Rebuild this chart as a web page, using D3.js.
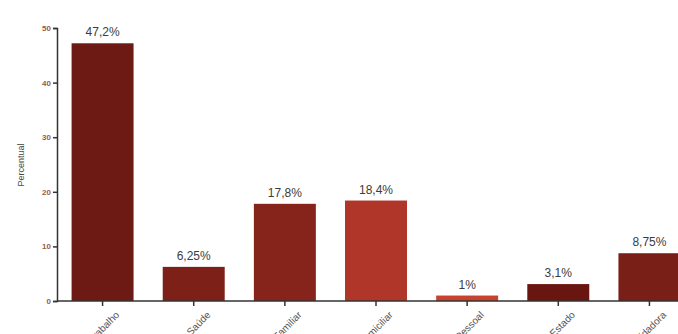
<!DOCTYPE html>
<html><head><meta charset="utf-8">
<script src="https://cdn.jsdelivr.net/npm/d3@7"></script>
<style>body{margin:0;background:#fff;overflow:hidden}svg{display:block;font-family:Arial,"Liberation Sans",sans-serif}</style>
</head><body><svg id="c" width="678" height="334"></svg>
<script>
const categories = ["Trabalho","Saúde","Familiar","Domiciliar","Pessoal","Estado","Cuidadora"];
const values = [47.2, 6.25, 17.8, 18.4, 1, 3.1, 8.75];
const valueLabels = ["47,2%","6,25%","17,8%","18,4%","1%","3,1%","8,75%"];
const barColors = ["#6e1a14","#7c2018","#86231b","#b0362a","#c8432e","#6a1610","#7a1f17"];
const yTicks = [0,10,20,30,40,50];

const svg = d3.select("#c");
const x = d3.scaleBand().domain(categories).range([57,695]).paddingInner(0.32).paddingOuter(0.16);
const y = d3.scaleLinear().domain([0,50]).range([301,28]);

svg.selectAll("rect.bar").data(values).join("rect")
  .attr("class","bar")
  .attr("x",(d,i)=>x(categories[i]))
  .attr("width",x.bandwidth())
  .attr("y",d=>y(d))
  .attr("height",d=>y(0)-y(d))
  .attr("fill",(d,i)=>barColors[i]);

svg.selectAll("text.val").data(values).join("text")
  .attr("class","val")
  .attr("x",(d,i)=>x(categories[i])+x.bandwidth()/2)
  .attr("y",d=>y(d)-7)
  .attr("text-anchor","middle")
  .attr("font-size",12)
  .attr("fill","#3c3c3c")
  .text((d,i)=>valueLabels[i]);

const ya = svg.append("g").attr("transform","translate(57,0)")
  .call(d3.axisLeft(y).tickValues(yTicks).tickSize(4).tickPadding(2));
ya.select(".domain").attr("stroke","#333").attr("stroke-width",1.5);
ya.selectAll(".tick line").attr("stroke","#333").attr("stroke-width",1.5);
ya.selectAll(".tick text").attr("font-size",8).attr("font-weight","bold").attr("fill","#9a5a48");

const xa = svg.append("g").attr("transform","translate(0,301)")
  .call(d3.axisBottom(x).tickSize(5).tickPadding(4));
xa.select(".domain").attr("stroke","#333").attr("stroke-width",1.5).attr("d","M57,0H695");
xa.selectAll(".tick line").attr("stroke","#333").attr("stroke-width",1.5);
xa.selectAll(".tick text").attr("font-size",10).attr("fill","#555")
  .attr("text-anchor","end").attr("dy","0.3em")
  .attr("transform","translate(9,6) rotate(-45)");

svg.append("text")
  .attr("transform","translate(24,165) rotate(-90)")
  .attr("text-anchor","middle")
  .attr("font-size",9)
  .attr("fill","#444")
  .text("Percentual");
</script></body></html>
